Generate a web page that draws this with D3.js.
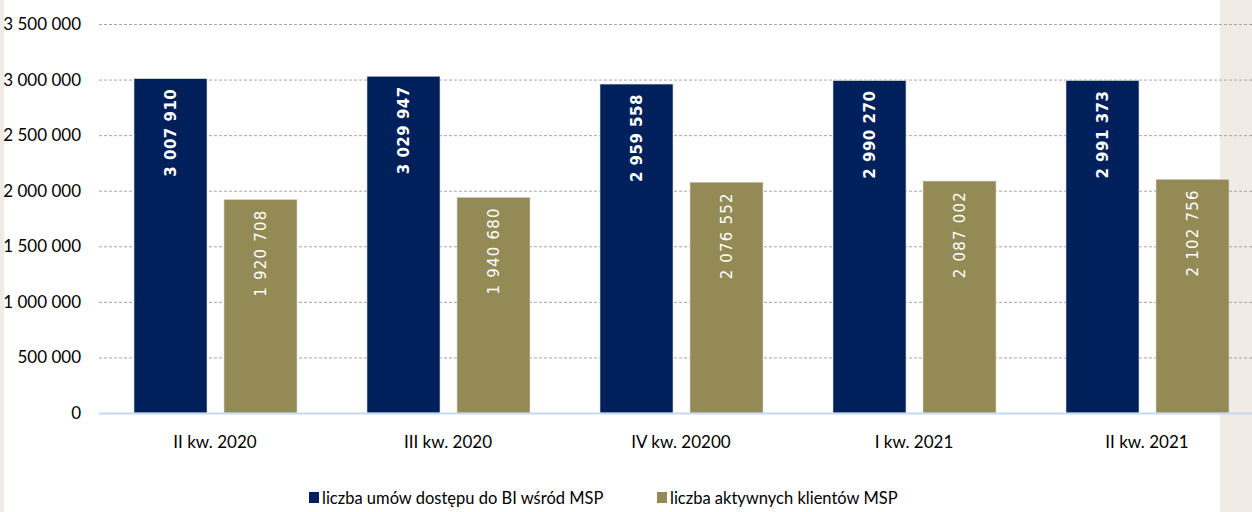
<!DOCTYPE html>
<html>
<head>
<meta charset="utf-8">
<script src="https://cdn.jsdelivr.net/npm/d3@7"></script>
<style>
  html, body { margin: 0; padding: 0; background: #f0ebe4; }
  svg { display: block; }
</style>
</head>
<body>
<svg id="chart"></svg>
<script>
// data
var categories = ['II kw. 2020', 'III kw. 2020', 'IV kw. 20200', 'I kw. 2021', 'II kw. 2021'];
var umowy = [3007910, 3029947, 2959558, 2990270, 2991373];
var klienci = [1920708, 1940680, 2076552, 2087002, 2102756];
var seriesNames = ['liczba umów dostępu do BI wśród MSP', 'liczba aktywnych klientów MSP'];
var yTicks = [0, 500000, 1000000, 1500000, 2000000, 2500000, 3000000, 3500000];

var width = 1252, height = 512;
var colors = ['#00205b', '#938a55'];
var axisFont = 'Lato, "Open Sans", sans-serif';
var labelFont = '"DejaVu Sans", Verdana, sans-serif';

var svg = d3.select('#chart').attr('width', width).attr('height', height);

// white panel over the beige page
svg.append('rect')
  .attr('x', 4).attr('y', 0)
  .attr('width', 1216).attr('height', height)
  .attr('fill', '#ffffff');

var pl = d3.formatLocale({decimal: ',', thousands: ' ', grouping: [3], currency: ['', '']});
var fmt = pl.format(',d');

//*********** scales
var x0 = d3.scaleBand().domain(categories).range([98.5, 98.5 + 233 * 5]).paddingInner(0).paddingOuter(0);
var y = d3.scaleLinear().domain([0, 3500000]).range([413, 24]);

// grid lines
svg.append('g')
  .selectAll('line')
  .data(yTicks.filter(d => d > 0))
  .enter()
  .append('line')
  .attr('x1', 99).attr('x2', width)
  .attr('y1', d => y(d) + 0.5).attr('y2', d => y(d) + 0.5)
  .attr('stroke', '#a6a6a6')
  .attr('stroke-width', 1)
  .attr('stroke-dasharray', '3,2');

// y axis labels
var yAxis = d3.axisLeft(y).tickValues(yTicks).tickFormat(fmt).tickSize(0).tickPadding(0);
var yAxisG = svg.append('g')
  .attr('transform', 'translate(81,0)')
  .call(yAxis);
yAxisG.select('.domain').remove();
yAxisG.selectAll('text')
  .style('font-family', axisFont)
  .style('font-size', '17px')
  .attr('fill', '#000');

//*********** bars
var rows = categories.map((c, i) => ({cat: c, vals: [umowy[i], klienci[i]]}));
var barW = 73;
var offsets = [35.5, 125.5];

var groups = svg.append('g').selectAll('g.cat')
  .data(rows)
  .enter()
  .append('g')
  .attr('class', 'cat')
  .attr('transform', d => `translate(${x0(d.cat)},0)`);

groups.selectAll('rect')
  .data(d => d.vals.map((v, j) => ({v: v, j: j})))
  .enter()
  .append('rect')
  .attr('x', d => offsets[d.j])
  .attr('y', d => y(d.v))
  .attr('width', barW)
  .attr('height', d => y(0) - y(d.v))
  .attr('fill', d => colors[d.j])
  .attr('stroke', '#d9d9d9')
  .attr('stroke-width', 0.6);

// value labels, rotated, inside the top of the bar
groups.selectAll('text.val')
  .data(d => d.vals.map((v, j) => ({v: v, j: j})))
  .enter()
  .append('text')
  .attr('class', 'val')
  .attr('transform', d => `translate(${offsets[d.j] + barW / 2},${y(d.v) + 10}) rotate(-90)`)
  .attr('text-anchor', 'end')
  .attr('dy', '0.36em')
  .text(d => fmt(d.v))
  .attr('fill', '#ffffff')
  .style('font-family', labelFont)
  .style('font-size', '15px')
  .style('letter-spacing', d => d.j === 0 ? '0.5px' : '1.2px')
  .style('font-weight', d => d.j === 0 ? 700 : 400);

// baseline
svg.append('line')
  .attr('x1', 99).attr('x2', width)
  .attr('y1', y(0) + 0.5).attr('y2', y(0) + 0.5)
  .attr('stroke', '#c6d9ef')
  .attr('stroke-width', 2);

// x axis labels
var xAxis = d3.axisBottom(x0).tickSize(0).tickPadding(0);
var xAxisG = svg.append('g')
  .attr('transform', 'translate(0,436)')
  .call(xAxis);
xAxisG.select('.domain').remove();
xAxisG.selectAll('text')
  .attr('dy', '0.72em')
  .style('font-family', axisFont)
  .style('font-size', '17px')
  .attr('fill', '#000');

//*********** legend
var legX = [309, 657];
var legend = svg.append('g').selectAll('g.legend')
  .data(seriesNames)
  .enter()
  .append('g')
  .attr('class', 'legend')
  .attr('transform', (d, i) => `translate(${legX[i]},492)`);

legend.append('rect')
  .attr('width', 10).attr('height', 11)
  .attr('fill', (d, i) => colors[i]);

legend.append('text')
  .attr('x', 13)
  .attr('y', 12)
  .text(d => d)
  .style('font-family', axisFont)
  .style('font-size', '16.5px')
  .attr('fill', '#000');
</script>
</body>
</html>
